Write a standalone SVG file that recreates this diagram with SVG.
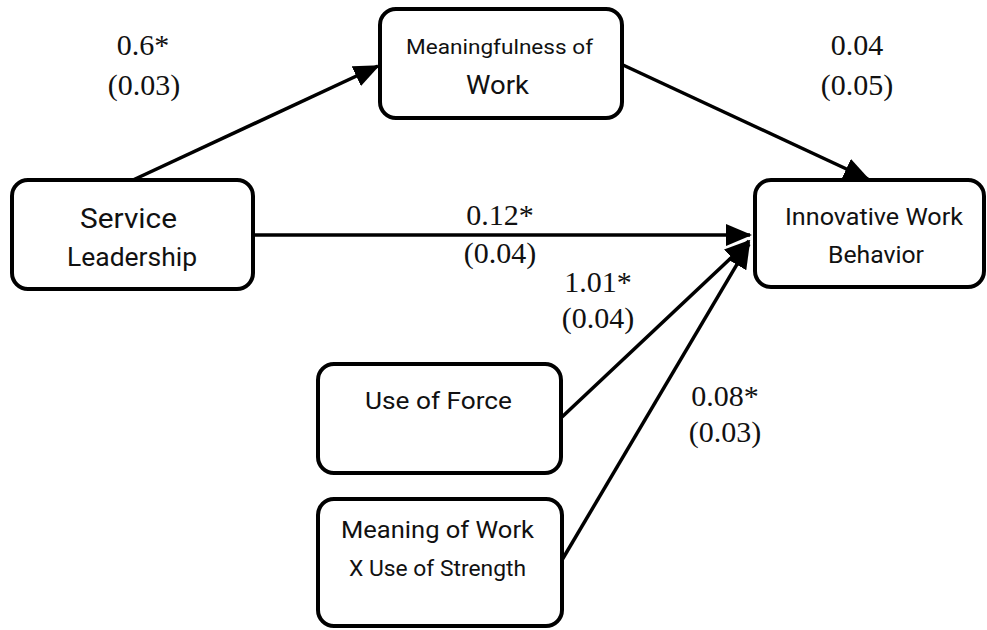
<svg xmlns="http://www.w3.org/2000/svg" width="987" height="630" viewBox="0 0 987 630">
<style>
.box{fill:#fff;stroke:#000;stroke-width:4}
.lbl{font-family:Roboto,"Liberation Sans",sans-serif;fill:#111;text-anchor:middle}
.num{font-family:"Liberation Serif","Times New Roman",serif;font-size:30px;fill:#111;text-anchor:middle}
.edge{stroke:#000;stroke-width:3.5;fill:none;marker-end:url(#ah)}
</style>
<defs>
<marker id="ah" viewBox="0 0 26 22" refX="24" refY="11" markerWidth="26" markerHeight="22" markerUnits="userSpaceOnUse" orient="auto">
<path d="M0,0 L26,11 L0,22 z" fill="#000"/>
</marker>
</defs>
<rect width="987" height="630" fill="#fff"/>
<g id="connectors">
<line class="edge" x1="133" y1="180" x2="378" y2="66"/>
<line class="edge" x1="623" y1="65" x2="868" y2="179"/>
<line class="edge" x1="253" y1="235" x2="750" y2="235"/>
<line class="edge" x1="562" y1="417" x2="749" y2="241"/>
<line class="edge" x1="562" y1="560" x2="749" y2="244"/>
</g>
<g id="service-leadership">
<rect class="box" x="12" y="180" width="241" height="109" rx="16"/>
<text class="lbl" x="128.5" y="228" font-size="28" textLength="97" lengthAdjust="spacingAndGlyphs">Service</text>
<text class="lbl" x="132" y="266" font-size="25" textLength="130" lengthAdjust="spacingAndGlyphs">Leadership</text>
</g>
<g id="meaningfulness-of-work">
<rect class="box" x="380" y="9" width="242" height="109" rx="16"/>
<text class="lbl" x="499.5" y="54" font-size="21" textLength="187" lengthAdjust="spacingAndGlyphs">Meaningfulness of</text>
<text class="lbl" x="497.5" y="94" font-size="25" textLength="63" lengthAdjust="spacingAndGlyphs">Work</text>
</g>
<g id="innovative-work-behavior">
<rect class="box" x="755" y="180" width="229" height="107" rx="16"/>
<text class="lbl" x="874" y="225" font-size="23" textLength="178" lengthAdjust="spacingAndGlyphs">Innovative Work</text>
<text class="lbl" x="876" y="263" font-size="23" textLength="96" lengthAdjust="spacingAndGlyphs">Behavior</text>
</g>
<g id="use-of-force">
<rect class="box" x="318" y="364" width="243" height="109" rx="16"/>
<text class="lbl" x="438.5" y="409" font-size="24" textLength="147" lengthAdjust="spacingAndGlyphs">Use of Force</text>
</g>
<g id="meaning-x-strength">
<rect class="box" x="318" y="499" width="244" height="127" rx="16"/>
<text class="lbl" x="437.5" y="538" font-size="23" textLength="193" lengthAdjust="spacingAndGlyphs">Meaning of Work</text>
<text class="lbl" x="437.5" y="576" font-size="22" textLength="177" lengthAdjust="spacingAndGlyphs">X Use of Strength</text>
</g>
<g id="labels">
<text class="num" x="143" y="55">0.6*</text>
<text class="num" x="144" y="95">(0.03)</text>
<text class="num" x="857" y="55">0.04</text>
<text class="num" x="857" y="95">(0.05)</text>
<text class="num" x="500" y="225">0.12*</text>
<text class="num" x="500" y="263">(0.04)</text>
<text class="num" x="598" y="292">1.01*</text>
<text class="num" x="598" y="328">(0.04)</text>
<text class="num" x="725" y="406">0.08*</text>
<text class="num" x="725" y="442">(0.03)</text>
</g>
</svg>
